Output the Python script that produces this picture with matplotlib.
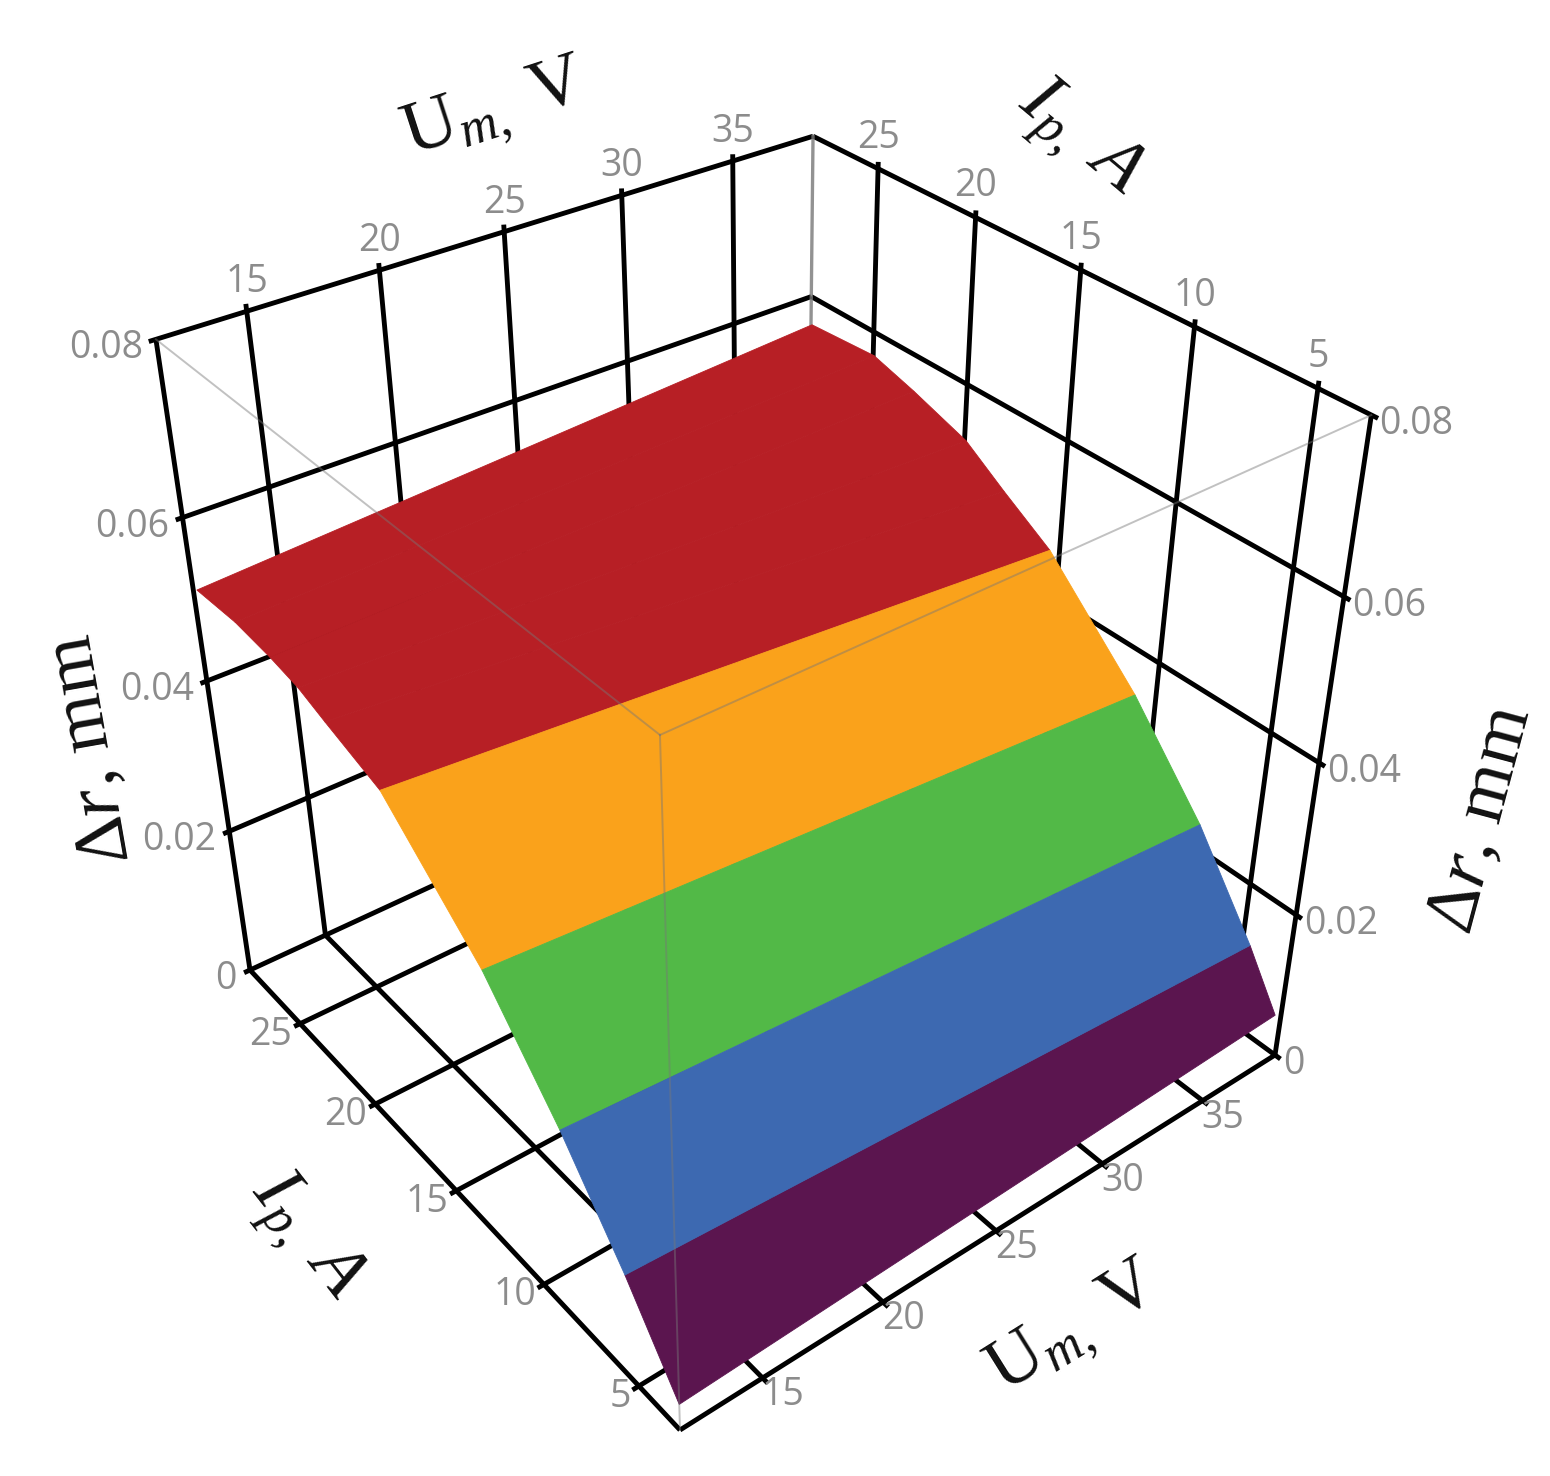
import numpy as np
import matplotlib
matplotlib.use('Agg')
import matplotlib.pyplot as plt
from matplotlib.colors import to_rgba
from mpl_toolkits.mplot3d import proj3d

W, H = 1550, 1476

um_limits = [11.75, 38.8]
ip_limits = [2.96, 28.55]
dr_limits = [0.0, 0.08]

um_ticks = [15, 20, 25, 30, 35]
ip_ticks = [5, 10, 15, 20, 25]
dr_ticks = [0, 0.02, 0.04, 0.06, 0.08]
dr_tick_labels = ['0', '0.02', '0.04', '0.06', '0.08']

# surface read along its two Um edges, one row per colour boundary plus the curved top
ip_at_um_min = [2.96, 5.48, 8.51, 12.21, 17.31, 20.36, 21.89, 23.57, 25.74, 28.27]
dr_at_um_min = [0.0036, 0.0139, 0.0248, 0.0361, 0.0472, 0.0496, 0.0509, 0.0516, 0.0521, 0.0518]
ip_at_um_max = [3.20, 4.66, 7.45, 10.94, 15.46, 17.88, 19.92, 22.74, 24.95, 28.49]
dr_at_um_max = [0.0053, 0.0121, 0.0232, 0.0342, 0.0456, 0.0495, 0.0530, 0.0554, 0.0570, 0.0564]
band_colors = ['#5B154F', '#3D69B1', '#52B947', '#FAA21B', '#B71F25',
               '#B71F25', '#B71F25', '#B71F25', '#B71F25']

# camera: unit box -> picture pixels
camera = np.array([
    [824.5, -375.0, -144.1, 680.0],
    [-185.1, -246.6, -833.2, 1430.0],
    [0.18, 0.22, -0.188, 0.0],
    [0.18, 0.22, -0.188, 1.0],
])
scale = np.eye(4)
for i, (lo, hi) in enumerate([um_limits, ip_limits, dr_limits]):
    scale[i, i] = 1 / (hi - lo)
    scale[i, 3] = -lo / (hi - lo)
M = camera @ scale

plt.rcParams['font.family'] = ['Liberation Serif', 'DejaVu Serif']
plt.rcParams['mathtext.fontset'] = 'custom'
plt.rcParams['mathtext.rm'] = 'Liberation Serif'
plt.rcParams['mathtext.it'] = 'Liberation Serif:italic'

fig = plt.figure(figsize=(W / 100, H / 100), dpi=100)
ax = fig.add_axes([0, 0, 1, 1], projection='3d', computed_zorder=False)
ax.set_axis_off()
ax.set_proj_type('ortho')  # stops mplot3d clipping points outside [-1, 1]
ax.get_proj = lambda: M
ax.viewLim.intervalx = ((W - H) / 2, (W + H) / 2)
ax.viewLim.intervaly = (H, 0)

um0, um1 = um_limits
ip0, ip1 = ip_limits
top = dr_limits[1]
stub_um = 0.25
stub_ip = 0.25
stub_dr = 0.0008


def black(xs, ys, zs):
    ax.plot(xs, ys, zs, color='black', lw=3.5, zorder=1, solid_capstyle='butt')


def grey(xs, ys, zs, lw=1.4, alpha=0.45, zorder=5):
    ax.plot(xs, ys, zs, color='#777777', lw=lw, alpha=alpha, zorder=zorder)


# back walls
for t in um_ticks:
    black([t, t], [ip1, ip1], [0, top + stub_dr])
for t in ip_ticks:
    black([um1, um1], [t, t], [0, top + stub_dr])
for z in dr_ticks:
    black([um0 - stub_um, um1], [ip1, ip1], [z, z])
    black([um1, um1], [ip1, ip0 - stub_ip], [z, z])
black([um0, um0], [ip1, ip1], [0, top])
black([um1, um1], [ip0, ip0], [0, top])

# floor
for t in um_ticks:
    black([t, t], [ip0 - stub_ip, ip1], [0, 0])
for t in ip_ticks:
    black([um0 - stub_um, um1], [t, t], [0, 0])
black([um0, um0], [ip0, ip1], [0, 0])
black([um0, um1], [ip0, ip0], [0, 0])

grey([um1, um1], [ip1, ip1], [0, top], lw=2.4, alpha=0.8, zorder=1.5)

# surface
X = np.array([[um0, um1]] * len(ip_at_um_min))
Y = np.column_stack([ip_at_um_min, ip_at_um_max])
Z = np.column_stack([dr_at_um_min, dr_at_um_max])
face = [[to_rgba(c)] for c in band_colors]
ax.plot_surface(X, Y, Z, facecolors=face, rstride=1, cstride=1, shade=False,
                linewidth=0.6, edgecolor=[to_rgba(c) for c in band_colors],
                antialiased=True, zorder=2)

# box edges seen through the surface
grey([um0, um0], [ip1, ip0], [top, top])
grey([um0, um1], [ip0, ip0], [top, top])
grey([um0, um0], [ip0, ip0], [0, top])


def tick_label(x, y, z, text, dx, dy, ha):
    px, py, _ = proj3d.proj_transform(x, y, z, M)
    ax.annotate(text, xy=(px, py), xytext=(dx, dy), textcoords='offset pixels',
                ha=ha, va='center', color='#8c8c8c', fontsize=27,
                family=['Open Sans', 'DejaVu Sans'], annotation_clip=False)


for t in um_ticks:
    tick_label(t, ip1, top, str(t), 0, 29, 'center')
    tick_label(t, ip0, 0, str(t), -1, -17, 'left')
for t in ip_ticks:
    tick_label(um1, t, top, str(t), 0, 31, 'center')
    tick_label(um0, t, 0, str(t), -8, -11, 'right')
for z, s in zip(dr_ticks, dr_tick_labels):
    tick_label(um0, ip1, z, s, -13, -9, 'right')
    tick_label(um1, ip0, z, s, 8, -9, 'left')


def axis_title(px, py, text, rot):
    fig.text(px / W, 1 - py / H, text, rotation=rot, ha='center', va='center',
             rotation_mode='anchor', fontsize=54, color='#111111')


um_title = r'U$_{\mathit{m},}$ V'
ip_title = r'$\mathit{I}_{\mathit{p},}$ $\mathit{A}$'
dr_title = r'$\mathit{\Delta r}$, mm'
axis_title(496, 113, um_title, 18)
axis_title(1080, 140, ip_title, -40)
axis_title(305, 1238, ip_title, -52)
axis_title(1076, 1331, um_title, 32)
axis_title(91, 750, dr_title, 100)
axis_title(1482, 820, dr_title, 75)

fig.savefig('out.png', dpi=100, facecolor='white')
